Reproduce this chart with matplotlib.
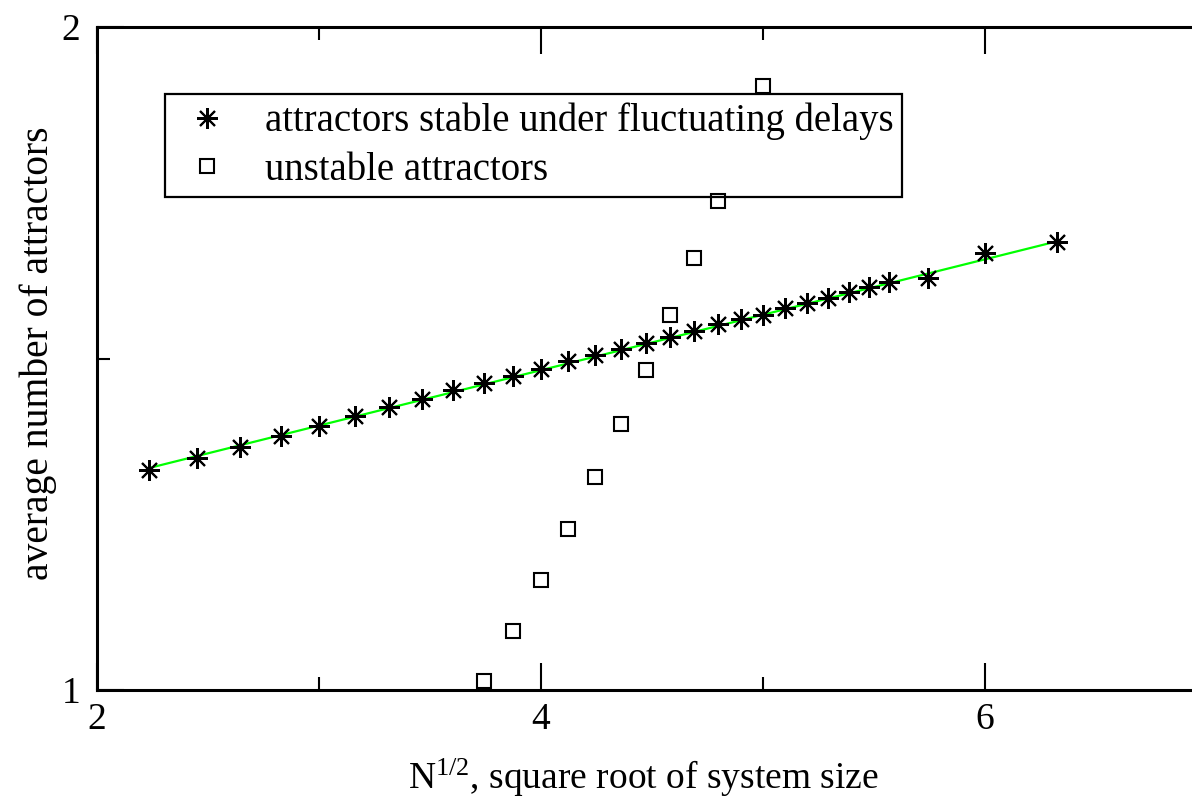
import numpy as np
import matplotlib
matplotlib.use("Agg")
import matplotlib.pyplot as plt
from matplotlib.ticker import FixedLocator

plt.rcParams['font.family'] = ['Liberation Serif', 'DejaVu Serif']
plt.rcParams['mathtext.fontset'] = 'custom'
plt.rcParams['mathtext.rm'] = 'Liberation Serif'
plt.rcParams['mathtext.it'] = 'Liberation Serif:italic'

# system sizes N (x = sqrt(N))
N_stable = [5, 6, 7, 8, 9, 10, 11, 12, 13, 14, 15, 16, 17, 18, 19, 20, 21, 22,
            23, 24, 25, 26, 27, 28, 29, 30, 31, 33, 36, 40]
stable = [1.332, 1.350, 1.367, 1.383, 1.398, 1.413, 1.427, 1.439, 1.452, 1.463,
          1.474, 1.484, 1.496, 1.505, 1.514, 1.523, 1.532, 1.541, 1.552, 1.560,
          1.566, 1.576, 1.584, 1.591, 1.600, 1.608, 1.615, 1.621, 1.659, 1.676]

N_unstable = [14, 15, 16, 17, 18, 19, 20, 21, 22, 23, 25]
unstable = [1.0136, 1.089, 1.166, 1.243, 1.321, 1.401, 1.483, 1.566, 1.652, 1.738, 1.911]

# linear fit of the stable branch: y = fit_a + fit_b * sqrt(N)
fit_a = 1.148
fit_b = 0.0836

xticks = [2, 4, 6]
xminor = [3, 5, 7]
yticks = [1, 2]
yminor = [1.5]

x_stable = np.sqrt(N_stable)
x_unstable = np.sqrt(N_unstable)

W, H = 1192, 800
fig = plt.figure(figsize=(W / 100, H / 100), dpi=100)
ax = fig.add_axes([97 / W, (H - 690) / H, 1332 / W, 663 / H])
ax.set_xlim(2, 8)
ax.set_ylim(1, 2)

xf = np.array([x_stable[0], x_stable[-1]])
ax.plot(xf, fit_a + fit_b * xf, color='#00ff00', lw=1.6, zorder=2)
ax.plot(x_stable, stable, linestyle='none', marker=(8, 2, 0), markersize=15,
        markeredgewidth=1.5, color='black', zorder=3,
        label='attractors stable under fluctuating delays')
ax.plot(x_unstable, unstable, linestyle='none', marker='s', markersize=10.5,
        markeredgewidth=1.5, markerfacecolor='none', markeredgecolor='black',
        zorder=6, label='unstable attractors')

for s in ax.spines.values():
    s.set_linewidth(2.2)

ax.xaxis.set_major_locator(FixedLocator(xticks))
ax.xaxis.set_minor_locator(FixedLocator(xminor))
ax.yaxis.set_major_locator(FixedLocator(yticks))
ax.yaxis.set_minor_locator(FixedLocator(yminor))
ax.set_xticklabels([str(v) for v in xticks])
ax.set_yticklabels([str(v) for v in yticks])
ax.tick_params(which='major', direction='in', length=19.5, width=1.5,
               top=True, right=True, labelsize=27, pad=9)
ax.tick_params(which='minor', direction='in', length=9.5, width=1.5,
               top=True, right=True)
ax.tick_params(axis='y', which='major', pad=12)

fig.text(643 / W, 1 - 789 / H, r'$\mathregular{N^{1/2}}$, square root of system size',
         ha='center', va='baseline', fontsize=27)
fig.text(38 / W, 1 - 353 / H, 'average number of attractors', rotation=90,
         ha='center', va='center', fontsize=28.5)

leg = ax.legend(loc='upper left', bbox_to_anchor=(165 / W, 1 - 94 / H),
                bbox_transform=fig.transFigure, borderaxespad=0,
                fontsize=27.9, frameon=True, fancybox=False, edgecolor='black',
                borderpad=0.22, handlelength=1.75, handletextpad=0.6,
                labelspacing=0.3, markerscale=1.0)
leg.get_frame().set_linewidth(1.6)
leg.get_frame().set_alpha(1)
leg.set_zorder(5)

fig.savefig('out.png', dpi=100)
